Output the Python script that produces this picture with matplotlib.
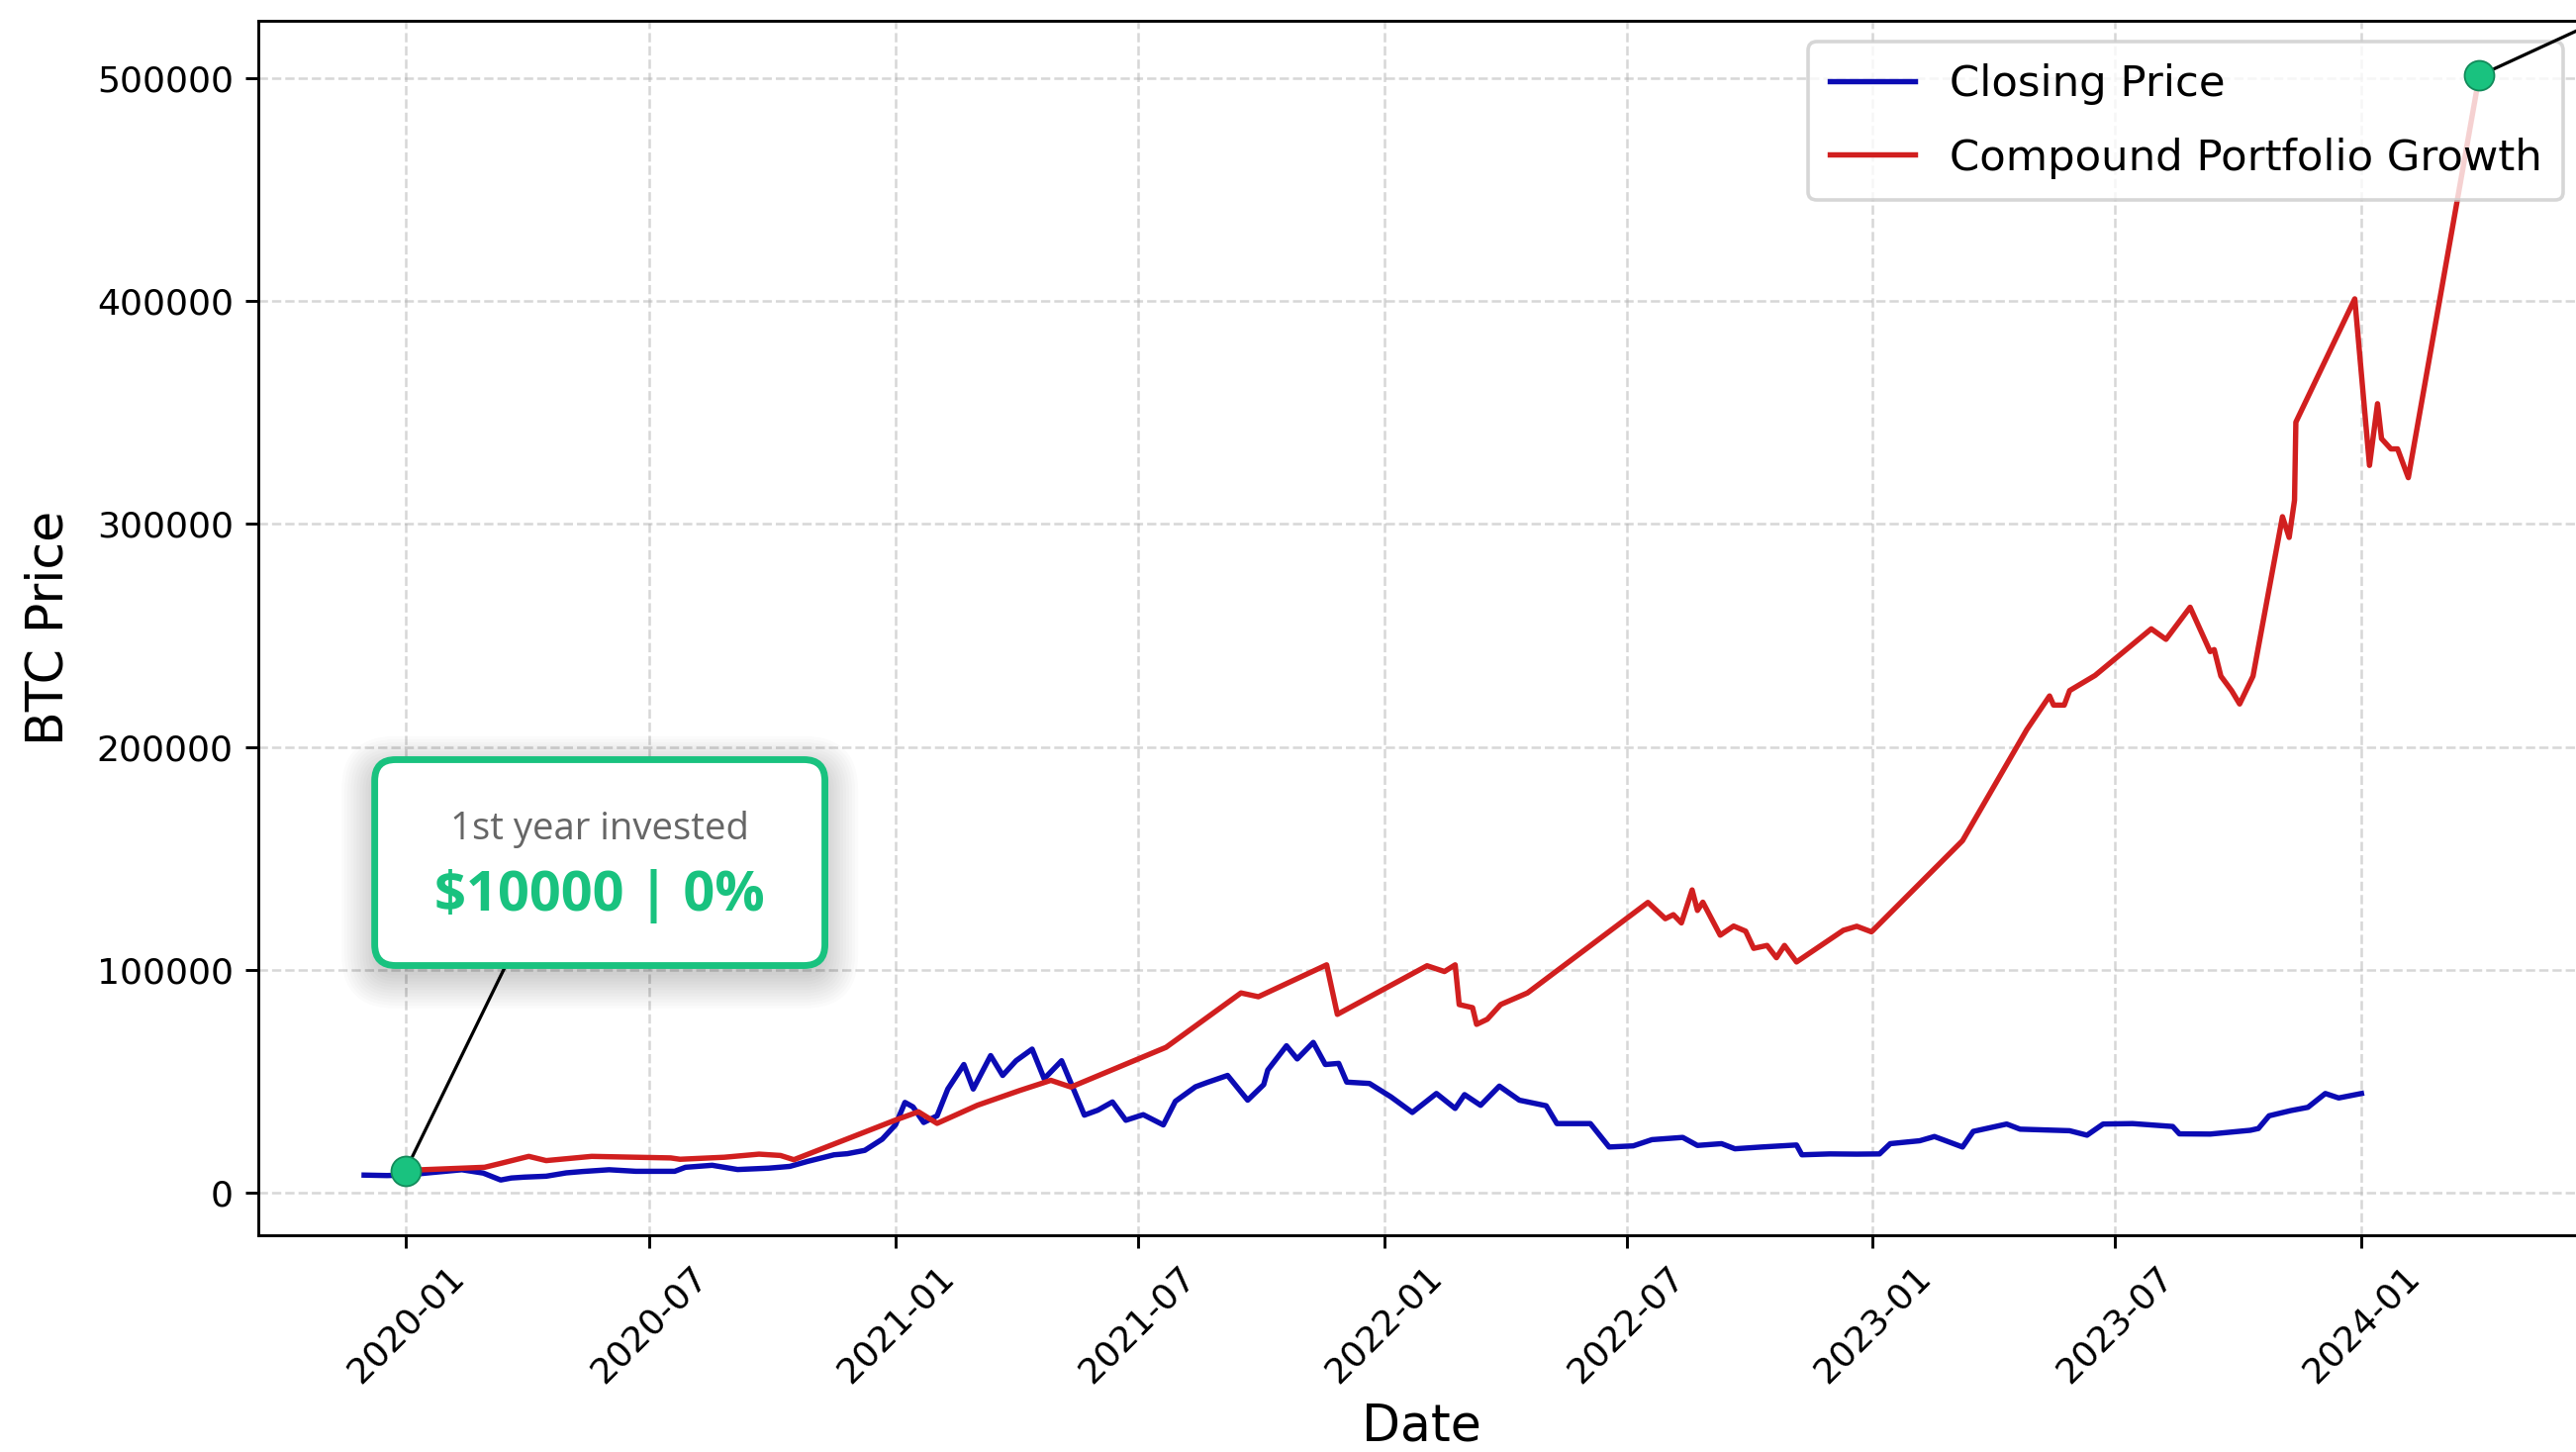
import matplotlib.pyplot as plt
import matplotlib.dates as mdates
from matplotlib.patches import FancyBboxPatch
import pandas as pd

# BTC closing price
price_dates = [
    "2019-12-01", "2019-12-18", "2020-01-01", "2020-01-18", "2020-02-12", "2020-02-28",
    "2020-03-12", "2020-03-20", "2020-03-30", "2020-04-15", "2020-04-30", "2020-05-12",
    "2020-06-01", "2020-06-21", "2020-07-20", "2020-07-28", "2020-08-17", "2020-09-05",
    "2020-09-28", "2020-10-14", "2020-10-27", "2020-11-16", "2020-11-26", "2020-12-09",
    "2020-12-22", "2021-01-01", "2021-01-08", "2021-01-14", "2021-01-22", "2021-02-01",
    "2021-02-09", "2021-02-21", "2021-02-28", "2021-03-13", "2021-03-22", "2021-04-01",
    "2021-04-13", "2021-04-22", "2021-05-05", "2021-05-17", "2021-05-22", "2021-06-01",
    "2021-06-12", "2021-06-22", "2021-07-05", "2021-07-20", "2021-07-29", "2021-08-13",
    "2021-08-22", "2021-09-06", "2021-09-21", "2021-10-03", "2021-10-06", "2021-10-20",
    "2021-10-28", "2021-11-09", "2021-11-18", "2021-11-28", "2021-12-04", "2021-12-21",
    "2022-01-06", "2022-01-22", "2022-02-09", "2022-02-23", "2022-03-02", "2022-03-14",
    "2022-03-28", "2022-04-12", "2022-05-02", "2022-05-10", "2022-06-04", "2022-06-18",
    "2022-07-06", "2022-07-20", "2022-08-12", "2022-08-23", "2022-09-10", "2022-09-20",
    "2022-10-10", "2022-11-05", "2022-11-09", "2022-11-30", "2022-12-20", "2023-01-06",
    "2023-01-14", "2023-02-05", "2023-02-16", "2023-03-09", "2023-03-17", "2023-04-11",
    "2023-04-21", "2023-05-28", "2023-06-10", "2023-06-22", "2023-07-14", "2023-08-13",
    "2023-08-18", "2023-09-10", "2023-10-10", "2023-10-16", "2023-10-24", "2023-11-09",
    "2023-11-22", "2023-12-05", "2023-12-15", "2024-01-01",
]
price_values = [
    7900, 7700, 7900, 8900, 10300, 8800,
    5700, 6600, 7000, 7400, 8900, 9500,
    10300, 9600, 9600, 11400, 12300, 10400,
    11000, 11800, 14000, 17000, 17500, 19000,
    24000, 30500, 40500, 38500, 31500, 34500,
    46500, 57500, 46500, 61500, 52600, 59200,
    64400, 51100, 59200, 42000, 34800, 37000,
    40700, 32500, 35000, 30400, 41000, 47500,
    49500, 52600, 41500, 48500, 55000, 65900,
    60000, 67400, 57500, 58000, 49600, 49000,
    43000, 36000, 44500, 37800, 44000, 39200,
    47800, 41500, 39000, 31000, 31000, 20500,
    21000, 23800, 24800, 21200, 22000, 19700,
    20500, 21400, 17000, 17400, 17300, 17400,
    22000, 23300, 25200, 20500, 27500, 30800,
    28500, 27800, 25800, 30800, 31000, 29700,
    26400, 26300, 28000, 28800, 34500, 36800,
    38300, 44500, 42500, 44500,
]

# compound portfolio value
portfolio_dates = [
    "2020-01-01", "2020-02-29", "2020-03-13", "2020-04-02", "2020-04-15", "2020-05-19",
    "2020-06-21", "2020-07-17", "2020-07-24", "2020-08-26", "2020-09-21", "2020-10-07",
    "2020-10-17", "2021-01-01", "2021-01-18", "2021-02-01", "2021-03-03", "2021-04-04",
    "2021-04-27", "2021-05-12", "2021-07-22", "2021-09-16", "2021-09-29", "2021-11-19",
    "2021-11-27", "2022-02-02", "2022-02-15", "2022-02-23", "2022-02-26", "2022-03-08",
    "2022-03-11", "2022-03-19", "2022-03-29", "2022-04-18", "2022-07-17", "2022-07-30",
    "2022-08-05", "2022-08-11", "2022-08-19", "2022-08-23", "2022-08-27", "2022-09-09",
    "2022-09-19", "2022-09-28", "2022-10-04", "2022-10-14", "2022-10-21", "2022-10-27",
    "2022-11-05", "2022-12-10", "2022-12-20", "2022-12-31", "2023-03-09", "2023-04-26",
    "2023-05-13", "2023-05-16", "2023-05-24", "2023-05-28", "2023-06-16", "2023-07-28",
    "2023-08-08", "2023-08-26", "2023-09-10", "2023-09-13", "2023-09-18", "2023-09-26",
    "2023-10-02", "2023-10-12", "2023-11-03", "2023-11-08", "2023-11-12", "2023-11-13",
    "2023-12-27", "2024-01-07", "2024-01-13", "2024-01-16", "2024-01-23", "2024-01-28",
    "2024-02-05", "2024-03-29",
]
portfolio_values = [
    10000, 11400, 13300, 16300, 14400, 16300,
    15900, 15600, 15000, 15900, 17300, 16700,
    14800, 32600, 36300, 31100, 39200, 45900,
    50400, 47400, 65200, 89600, 87900, 102200,
    80000, 101800, 99200, 102200, 84400, 83000,
    75500, 77800, 84400, 89600, 130200, 122900,
    124700, 121000, 135800, 126600, 130300, 115500,
    119600, 117300, 109600, 110900, 105400, 110900,
    103500, 117700, 119500, 117000, 157900, 207700,
    222800, 218700, 218700, 225200, 232000, 252900,
    248200, 262600, 242700, 243600, 231700, 225200,
    219200, 231700, 303200, 293900, 310600, 345600,
    400900, 326200, 353900, 338200, 333600, 333600,
    320700, 501000,
]

callout_title = "1st year invested"
callout_value = "$10000 | 0%"

GREEN = "#19c27f"

price_x = pd.to_datetime(price_dates)
portfolio_x = pd.to_datetime(portfolio_dates)

fig = plt.figure(figsize=(2603 / 260, 1467 / 260), dpi=260)
# the original screenshot is cropped: the axes run slightly past the right edge
ax = fig.add_axes([0.1003, 0.1493, 0.9032, 0.8366])

ax.plot(price_x, price_values, color="#0b0bb4", lw=1.5, label="Closing Price")
ax.plot(portfolio_x, portfolio_values, color="#d11f1f", lw=1.5, label="Compound Portfolio Growth")

ax.set_xlabel("Date", fontsize=14, labelpad=3.5)
ax.set_ylabel("BTC Price", fontsize=14, labelpad=6.5)
ax.xaxis.set_major_locator(mdates.MonthLocator(bymonth=[1, 7]))
ax.xaxis.set_major_formatter(mdates.DateFormatter("%Y-%m"))
plt.setp(ax.get_xticklabels(), rotation=45)
ax.grid(True, linestyle="--", alpha=0.5, lw=0.7)
ax.legend(loc="upper right", fontsize=12, labelspacing=0.75, borderpad=0.5)

# --- callout overlays ---
# connector lines to the green dots
ax.annotate("", xy=(portfolio_x[0], portfolio_values[0]), xytext=(0.1063, 0.222),
            textcoords="axes fraction",
            arrowprops=dict(arrowstyle="-", color="black", lw=0.9, shrinkA=0, shrinkB=0),
            zorder=6)
ax.annotate("", xy=(portfolio_x[-1], portfolio_values[-1]), xytext=(1.04, 1.03),
            textcoords="axes fraction", annotation_clip=False,
            arrowprops=dict(arrowstyle="-", color="black", lw=0.9, shrinkA=0, shrinkB=0),
            zorder=6)
for i in [0, -1]:
    ax.plot(portfolio_x[i], portfolio_values[i], "o", ms=8.3, mfc=GREEN, mec="#128a5a",
            mew=0.5, zorder=7, clip_on=False)

# box with soft shadow (axes fraction coords)
bx0, by0, bx1, by1 = 0.05, 0.222, 0.2435, 0.3915
asp = 2351 / 1227.3
for k in range(12):
    grow = 0.0013 * k
    shadow = FancyBboxPatch((bx0 - grow, by0 - 0.008 - grow * asp),
                            bx1 - bx0 + 2 * grow, by1 - by0 + 2 * grow * asp,
                            boxstyle=f"round,pad=0,rounding_size={0.009 + grow}",
                            mutation_aspect=asp, transform=ax.transAxes,
                            facecolor="black", edgecolor="none", alpha=0.016, zorder=7)
    ax.add_patch(shadow)
box = FancyBboxPatch((bx0, by0), bx1 - bx0, by1 - by0,
                     boxstyle="round,pad=0,rounding_size=0.009", mutation_aspect=asp,
                     transform=ax.transAxes, facecolor="white", edgecolor=GREEN,
                     lw=1.9, zorder=8)
ax.add_patch(box)
ax.text((bx0 + bx1) / 2, 0.3259, callout_title, transform=ax.transAxes, ha="center",
        va="baseline", fontsize=10.6, color="#666666", family="Open Sans", zorder=9)
ax.text((bx0 + bx1) / 2, 0.2673, callout_value, transform=ax.transAxes, ha="center",
        va="baseline", fontsize=15.5, color=GREEN, family="Open Sans",
        fontweight="bold", zorder=9)

fig.savefig("out.png", dpi=260)
